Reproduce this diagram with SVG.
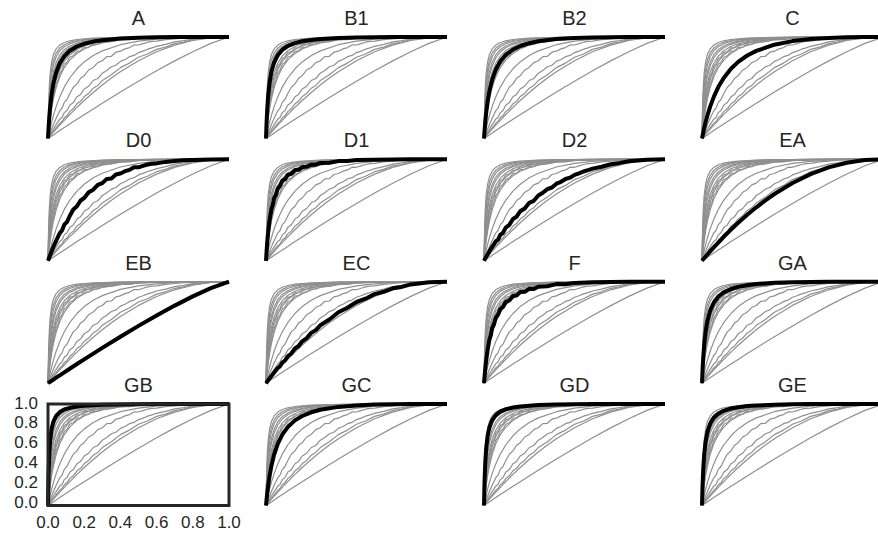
<svg xmlns="http://www.w3.org/2000/svg" xmlns:xlink="http://www.w3.org/1999/xlink" width="878" height="542" viewBox="0 0 878 542">
<style>
.gray{stroke:#8f8f8f;stroke-width:1.2}
.hl{stroke:#000;stroke-width:4}
.title{font-family:"Liberation Sans",Arial,sans-serif;font-size:20px;fill:#262626;text-anchor:middle}
.tick{font-family:"Liberation Sans",Arial,sans-serif;font-size:17px;fill:#262626}
</style>
<defs>
<polyline id="c-GB" fill="none" stroke-linejoin="round" points="0,101.5 0.54,70.4 1.27,49.7 2.17,36.1 3.62,24.8 5.43,17.5 8.15,11.9 11.77,8.1 16.29,5.5 21.72,3.8 28.96,2.5 36.2,1.8 45.25,1.2 54.3,0.8 72.4,0.4 90.5,0.2 108.6,0.1 126.7,0 181,0"/>
<polyline id="c-GD" fill="none" stroke-linejoin="round" points="0,101.5 0.54,77.4 1.27,58.5 2.17,44.5 3.62,31.8 5.43,23.2 8.15,16.1 11.77,11.1 16.29,7.7 21.72,5.3 28.96,3.5 36.2,2.5 45.25,1.7 54.3,1.1 72.4,0.5 90.5,0.3 108.6,0.1 126.7,0 181,0"/>
<polyline id="c-GE" fill="none" stroke-linejoin="round" points="0,101.5 0.54,81.7 1.27,64.6 2.17,50.9 3.62,37.6 5.43,28 8.15,19.8 11.77,13.8 16.29,9.7 21.72,6.8 28.96,4.5 36.2,3.2 45.25,2.1 54.3,1.5 72.4,0.7 90.5,0.3 108.6,0.1 126.7,0 181,0"/>
<polyline id="c-B1" fill="none" stroke-linejoin="round" points="0,101.5 0.54,86.2 1.27,71.6 2.17,58.7 3.62,45.3 5.43,34.7 8.15,25.3 11.77,18 16.29,12.7 21.72,9 28.96,6.1 36.2,4.3 45.25,2.9 54.3,2 72.4,0.9 90.5,0.4 108.6,0.2 126.7,0.1 144.8,0 181,0"/>
<polyline id="c-GA" fill="none" stroke-linejoin="round" points="0,101.5 0.54,88.5 1.27,75.4 2.17,63.3 3.62,50 5.43,39.2 8.15,29 11.77,21 16.29,15 21.72,10.7 28.96,7.3 36.2,5.2 45.25,3.5 54.3,2.4 72.4,1.1 90.5,0.5 108.6,0.2 126.7,0.1 144.8,0 181,0"/>
<polyline id="c-A" fill="none" stroke-linejoin="round" points="0,101.5 0.54,91.4 1.27,80.6 2.17,69.9 3.62,57.3 5.43,46.3 8.15,35.4 11.77,26.2 16.29,19.1 21.72,13.8 28.96,9.5 36.2,6.8 45.25,4.6 54.3,3.2 72.4,1.5 90.5,0.7 108.6,0.3 126.7,0.1 144.8,0 181,0"/>
<polyline id="c-D1" fill="none" stroke-linejoin="round" points="0,101.5 0.54,92.6 1.27,82.8 2.17,72.9 3.62,60.8 5.43,49.9 6.8,45.6 8.15,38.7 9.96,35.4 11.77,29 14,26.7 16.29,21.4 19,19.9 21.72,15.6 25.3,14.6 28.96,10.8 32.6,10.5 36.2,7.7 40.7,7.5 45.25,5.3 49.8,5.4 54.3,3.6 63.4,3.5 72.4,1.8 81.5,1.6 90.5,0.8 108.6,0.4 126.7,0.1 144.8,0 181,0"/>
<polyline id="c-B2" fill="none" stroke-linejoin="round" points="0,101.5 0.54,93.9 1.27,85.2 2.17,76.1 3.62,64.7 5.43,54 8.15,42.7 11.77,32.6 16.29,24.3 21.72,17.9 28.96,12.5 36.2,9 45.25,6.2 54.3,4.3 72.4,2.1 90.5,1 108.6,0.4 126.7,0.2 144.8,0 181,0"/>
<polyline id="c-F" fill="none" stroke-linejoin="round" points="0,101.5 0.54,94.9 1.27,87.2 2.17,78.9 3.62,68.2 5.43,57.9 6.8,53.7 8.15,46.5 9.96,42.8 11.77,36.1 14,33.2 16.29,27.3 19,25.3 21.72,20.3 25.3,18.8 28.96,14.3 32.6,13.8 36.2,10.4 40.7,10.1 45.25,7.1 49.8,7.3 54.3,5 63.4,4.6 72.4,2.4 81.5,2.6 90.5,1.2 108.6,0.5 126.7,0.2 144.8,0 181,0"/>
<polyline id="c-GC" fill="none" stroke-linejoin="round" points="0,101.5 0.54,95.8 1.27,89 2.17,81.6 3.62,71.6 5.43,61.8 8.15,50.5 11.77,39.8 16.29,30.6 21.72,23.1 28.96,16.4 36.2,12 45.25,8.3 54.3,5.8 72.4,2.9 90.5,1.4 108.6,0.6 126.7,0.2 144.8,0.1 181,0"/>
<polyline id="c-C" fill="none" stroke-linejoin="round" points="0,101.5 0.54,98.8 1.27,95.3 2.17,91.2 3.62,85.1 5.43,78.4 8.15,69.6 11.77,59.9 16.29,50.1 21.72,41 28.96,31.8 36.2,24.9 45.25,18.5 54.3,13.9 72.4,7.7 90.5,4.1 108.6,2.1 126.7,0.9 144.8,0.3 162.9,0.1 181,0"/>
<polyline id="c-D0" fill="none" stroke-linejoin="round" points="0,101.5 2.17,95.6 5.43,87.5 8.15,81.3 11.77,73.8 14,71.2 16.29,65.4 19,62.5 21.72,56.7 25.3,50.2 28.96,46.9 32.6,41.2 36.2,38.7 40.7,33 45.25,30.4 49.8,25.6 54.3,23.8 58.8,19.6 63.4,19.3 67.9,15.2 72.4,14.2 77,11.9 81.5,10.6 86,7.9 90.5,8 95,6.6 99.5,5.2 104,4.4 108.6,4.1 117.6,2.6 126.7,1.8 135.7,0.9 144.8,0.6 162.9,0.1 181,0"/>
<polyline id="c-D2" fill="none" stroke-linejoin="round" points="0,101.5 2.17,97.6 5.43,92 8.15,87.6 11.77,82.1 14,80.4 16.29,75.6 19,73.5 21.72,68.3 25.3,65.6 28.96,59.7 32.6,57.4 36.2,52 40.7,49.2 45.25,43.5 49.8,41.5 54.3,36.2 58.8,33.5 63.4,29.8 67.9,28.2 72.4,24.4 77,22.5 81.5,19.7 86,18.4 90.5,15.6 95,14.1 99.5,12.2 104,10.9 108.6,9.3 117.6,7.4 126.7,4.9 135.7,3.6 144.8,2 162.9,0.5 181,0"/>
<polyline id="c-EC" fill="none" stroke-linejoin="round" points="0,101.5 2.17,98.6 5.43,94.3 8.15,90.8 11.77,86.3 14,84.6 16.29,80.8 19,78.8 21.72,74.6 25.3,71.8 28.96,66.8 32.6,64.3 36.2,59.6 40.7,56.4 45.25,51.2 49.8,48.4 54.3,43.6 63.4,37.8 72.4,30.6 81.5,26.1 90.5,20.3 99.5,17 108.6,12.4 117.6,10.1 126.7,6.6 135.7,5.2 144.8,2.7 162.9,0.6 181,0"/>
<polyline id="c-EA" fill="none" stroke-linejoin="round" points="0,101.5 2.17,99 5.43,95.2 8.15,92.1 11.77,88.1 16.29,83.3 21.72,77.6 28.96,70.4 36.2,63.5 45.25,55.5 54.3,48 63.4,41 72.4,34.7 90.5,23.7 108.6,14.8 126.7,8.1 144.8,3.5 162.9,0.8 181,0"/>
<polyline id="c-EB" fill="none" stroke-linejoin="round" points="0,101.5 2.17,100 5.43,97.9 8.15,96 11.77,93.6 16.29,90.6 21.72,87.1 28.96,82.3 36.2,77.7 45.25,71.9 54.3,66.2 72.4,55 90.5,44.2 108.6,33.8 126.7,23.9 144.8,14.7 162.9,6.4 181,0"/>
<g id="all">
<use xlink:href="#c-EB"/><use xlink:href="#c-EA"/><use xlink:href="#c-EC"/><use xlink:href="#c-D2"/><use xlink:href="#c-D0"/><use xlink:href="#c-C"/><use xlink:href="#c-GC"/><use xlink:href="#c-F"/><use xlink:href="#c-B2"/><use xlink:href="#c-D1"/><use xlink:href="#c-A"/><use xlink:href="#c-GA"/><use xlink:href="#c-B1"/><use xlink:href="#c-GE"/><use xlink:href="#c-GD"/><use xlink:href="#c-GB"/>
</g>
</defs>

<g id="panel-A" transform="translate(48,37)"><use xlink:href="#all" class="gray"/><use xlink:href="#c-A" class="hl"/><text class="title" x="90.5" y="-12">A</text></g>
<g id="panel-B1" transform="translate(266,37)"><use xlink:href="#all" class="gray"/><use xlink:href="#c-B1" class="hl"/><text class="title" x="90.5" y="-12">B1</text></g>
<g id="panel-B2" transform="translate(484,37)"><use xlink:href="#all" class="gray"/><use xlink:href="#c-B2" class="hl"/><text class="title" x="90.5" y="-12">B2</text></g>
<g id="panel-C" transform="translate(702,37)"><use xlink:href="#all" class="gray"/><use xlink:href="#c-C" class="hl"/><text class="title" x="90.5" y="-12">C</text></g>

<g id="panel-D0" transform="translate(48,159.3)"><use xlink:href="#all" class="gray"/><use xlink:href="#c-D0" class="hl"/><text class="title" x="90.5" y="-12">D0</text></g>
<g id="panel-D1" transform="translate(266,159.3)"><use xlink:href="#all" class="gray"/><use xlink:href="#c-D1" class="hl"/><text class="title" x="90.5" y="-12">D1</text></g>
<g id="panel-D2" transform="translate(484,159.3)"><use xlink:href="#all" class="gray"/><use xlink:href="#c-D2" class="hl"/><text class="title" x="90.5" y="-12">D2</text></g>
<g id="panel-EA" transform="translate(702,159.3)"><use xlink:href="#all" class="gray"/><use xlink:href="#c-EA" class="hl"/><text class="title" x="90.5" y="-12">EA</text></g>

<g id="panel-EB" transform="translate(48,281.7)"><use xlink:href="#all" class="gray"/><use xlink:href="#c-EB" class="hl"/><text class="title" x="90.5" y="-12">EB</text></g>
<g id="panel-EC" transform="translate(266,281.7)"><use xlink:href="#all" class="gray"/><use xlink:href="#c-EC" class="hl"/><text class="title" x="90.5" y="-12">EC</text></g>
<g id="panel-F" transform="translate(484,281.7)"><use xlink:href="#all" class="gray"/><use xlink:href="#c-F" class="hl"/><text class="title" x="90.5" y="-12">F</text></g>
<g id="panel-GA" transform="translate(702,281.7)"><use xlink:href="#all" class="gray"/><use xlink:href="#c-GA" class="hl"/><text class="title" x="90.5" y="-12">GA</text></g>

<g id="panel-GB" transform="translate(48,404)"><use xlink:href="#all" class="gray"/><use xlink:href="#c-GB" class="hl"/><rect x="0" y="0" width="181" height="101.5" fill="none" stroke="#262626" stroke-width="3"/><text class="title" x="90.5" y="-12">GB</text></g>
<g id="panel-GC" transform="translate(266,404)"><use xlink:href="#all" class="gray"/><use xlink:href="#c-GC" class="hl"/><text class="title" x="90.5" y="-12">GC</text></g>
<g id="panel-GD" transform="translate(484,404)"><use xlink:href="#all" class="gray"/><use xlink:href="#c-GD" class="hl"/><text class="title" x="90.5" y="-12">GD</text></g>
<g id="panel-GE" transform="translate(702,404)"><use xlink:href="#all" class="gray"/><use xlink:href="#c-GE" class="hl"/><text class="title" x="90.5" y="-12">GE</text></g>

<g id="axis-labels" class="tick">
<text x="38" y="408.6" text-anchor="end">1.0</text>
<text x="38" y="428.4" text-anchor="end">0.8</text>
<text x="38" y="448.3" text-anchor="end">0.6</text>
<text x="38" y="468.1" text-anchor="end">0.4</text>
<text x="38" y="488" text-anchor="end">0.2</text>
<text x="38" y="507.8" text-anchor="end">0.0</text>
<text x="48" y="528" text-anchor="middle">0.0</text>
<text x="84.2" y="528" text-anchor="middle">0.2</text>
<text x="120.4" y="528" text-anchor="middle">0.4</text>
<text x="156.6" y="528" text-anchor="middle">0.6</text>
<text x="192.8" y="528" text-anchor="middle">0.8</text>
<text x="229" y="528" text-anchor="middle">1.0</text>
</g>
</svg>
